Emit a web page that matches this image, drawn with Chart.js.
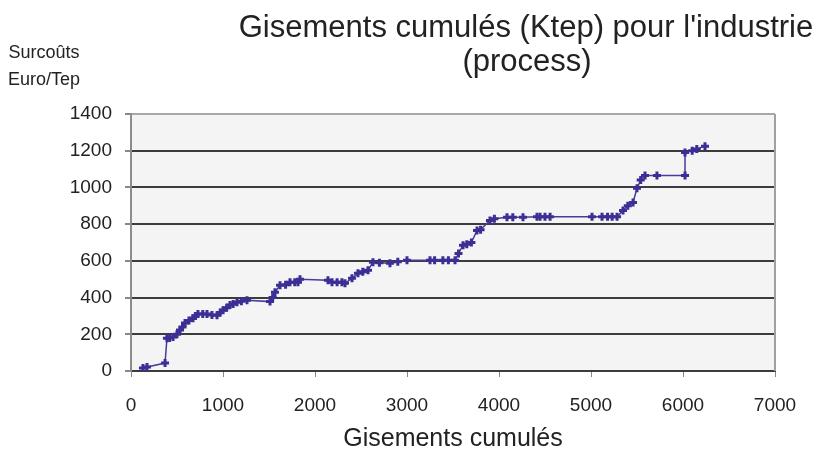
<!DOCTYPE html>
<html>
<head>
<meta charset="utf-8">
<script src="https://cdn.jsdelivr.net/npm/chart.js@4.4.0/dist/chart.umd.min.js"></script>
<style>
  html, body { margin: 0; padding: 0; background: #ffffff; }
  #courbe { display: block; }
</style>
</head>
<body>
<canvas id="courbe" width="820" height="452"></canvas>
<script>
//DONNEES------------------------------------------------------------
// gisements cumulés (Ktep) - axe X
const gisements = [
  130, 174, 370, 391, 420, 457, 500, 533, 560, 587,
  630, 674, 700, 728, 780, 826, 880, 935, 970, 1000,
  1040, 1076, 1110, 1152, 1200, 1261, 1511, 1540, 1565, 1620,
  1680, 1728, 1780, 1815, 1837, 2141, 2185, 2240, 2293, 2326,
  2402, 2467, 2520, 2576, 2630, 2700, 2815, 2900, 3000, 3250,
  3300, 3390, 3450, 3522, 3560, 3609, 3650, 3700, 3761, 3800,
  3902, 3950, 4087, 4150, 4261, 4413, 4446, 4500, 4555, 5011,
  5120, 5180, 5230, 5283, 5348, 5400, 5457, 5500, 5540, 5587,
  5717, 6022, 6022, 6100, 6150, 6239
];
// surcoûts (Euro/Tep) - axe Y
const surcouts = [
  16, 22, 43, 179, 180, 185, 200, 223, 240, 261,
  275, 288, 300, 310, 310, 310, 305, 304, 318, 331,
  345, 359, 365, 375, 380, 386, 378, 400, 429, 467,
  470, 484, 484, 484, 500, 495, 484, 484, 484, 478,
  505, 532, 540, 549, 592, 590, 587, 595, 603, 603,
  603, 603, 603, 603, 640, 685, 690, 700, 766, 770,
  820, 830, 837, 837, 837, 840, 840, 840, 840, 840,
  840, 840, 840, 840, 875, 900, 918, 995, 1040, 1065,
  1065, 1065, 1190, 1200, 1210, 1225
];
// graduations
const xMin = 0, xMax = 7000, xPas = 1000;
const yMin = 0, yMax = 1400, yPas = 200;

const titreLignes = ["Gisements cumulés (Ktep) pour l'industrie", "(process)"];
const titreY = ["Surcoûts", "Euro/Tep"];
const titreX = "Gisements cumulés";
//-------------------------------------------------------------------


//POINTS-------------------------------------------------------------
const points = gisements.map(function (g, i) {
  return { x: g, y: surcouts[i] };
});
//-------------------------------------------------------------------


//PLUGIN FOND + TEXTES-----------------------------------------------
const habillage = {
  id: "habillage",
  beforeDraw(chart) {
    const ctx = chart.ctx;
    const a = chart.chartArea;
    ctx.save();
    ctx.fillStyle = "#f4f4f4";
    ctx.fillRect(a.left, a.top, a.right - a.left, a.bottom - a.top);
    ctx.restore();
  },
  afterDraw(chart) {
    const ctx = chart.ctx;
    const a = chart.chartArea;
    ctx.save();
    // bord droit
    ctx.strokeStyle = "#a0a0a0";
    ctx.lineWidth = 2;
    ctx.beginPath();
    ctx.moveTo(a.right, a.top);
    ctx.lineTo(a.right, a.bottom);
    ctx.stroke();

    ctx.fillStyle = "#222222";
    ctx.textAlign = "center";
    ctx.textBaseline = "middle";
    // titre
    ctx.font = '31px "Liberation Sans", Arial, sans-serif';
    ctx.fillText(titreLignes[0], 526, 28);
    ctx.fillText(titreLignes[1], 527, 62);
    // titre axe Y
    ctx.font = '18px "Liberation Sans", Arial, sans-serif';
    ctx.fillText(titreY[0], 44, 53);
    ctx.fillText(titreY[1], 44, 80);
    ctx.restore();
  }
};
//-------------------------------------------------------------------


//GRAPHIQUE----------------------------------------------------------
const sansSep = function (v) { return String(v); };

const config = {
  type: "scatter",
  data: {
    datasets: [
      {
        data: points,
        showLine: true,
        borderColor: "#463c9c",
        borderWidth: 1.5,
        pointStyle: "cross",
        pointRadius: 4,
        pointBorderWidth: 3,
        pointBorderColor: "#3b2f95",
        pointBackgroundColor: "#3b2f95"
      }
    ]
  },
  options: {
    responsive: false,
    animation: false,
    devicePixelRatio: 1,
    layout: { padding: { top: 114, left: 0, right: 45, bottom: 0 } },
    plugins: {
      legend: { display: false },
      tooltip: { enabled: false }
    },
    scales: {
      x: {
        type: "linear",
        min: xMin,
        max: xMax,
        afterFit: function (scale) { scale.height = 81; },
        ticks: {
          stepSize: xPas,
          padding: 17,
          color: "#222222",
          callback: sansSep,
          font: { family: '"Liberation Sans", Arial', size: 19 }
        },
        grid: {
          drawOnChartArea: false,
          tickLength: 6,
          tickColor: "#888888"
        },
        border: { color: "#3c3c3c", width: 2 },
        title: {
          display: true,
          text: titreX,
          color: "#222222",
          padding: { top: 0, bottom: 0 },
          font: { family: '"Liberation Sans", Arial', size: 25, lineHeight: 1 }
        }
      },
      y: {
        type: "linear",
        min: yMin,
        max: yMax,
        afterFit: function (scale) { scale.width = 131; },
        ticks: {
          stepSize: yPas,
          padding: 13,
          color: "#222222",
          callback: sansSep,
          font: { family: '"Liberation Sans", Arial', size: 19 }
        },
        grid: {
          color: function (c) {
            return c.tick && c.tick.value === yMax ? "#a8a8a8" : "#3c3c3c";
          },
          lineWidth: 2,
          tickLength: 6,
          tickColor: "#888888"
        },
        border: { color: "#8c8c8c", width: 2 }
      }
    }
  },
  plugins: [habillage]
};

const courbe = new Chart(document.getElementById("courbe"), config);
//-------------------------------------------------------------------
</script>
</body>
</html>
